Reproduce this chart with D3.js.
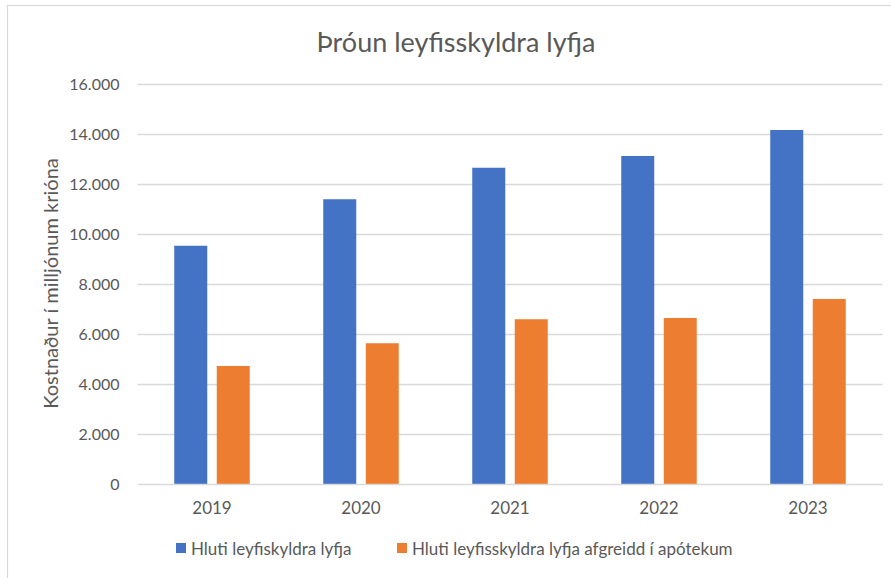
<!DOCTYPE html>
<html><head><meta charset="utf-8">
<script src="https://cdn.jsdelivr.net/npm/d3@7"></script>
<style>body{margin:0;background:#fff}svg{display:block}text{font-family:Lato,"Open Sans",sans-serif}</style>
</head><body><svg id="c" width="891" height="578"></svg>
<script>
const categories = ["2019","2020","2021","2022","2023"];
const seriesNames = ["Hluti leyfiskyldra lyfja","Hluti leyfisskyldra lyfja afgreidd í apótekum"];
const seriesA = [9530, 11390, 12650, 13120, 14160];
const seriesB = [4720, 5630, 6590, 6640, 7400];
const yTicks = [0,2000,4000,6000,8000,10000,12000,14000,16000];
const tickLabels = ["0","2.000","4.000","6.000","8.000","10.000","12.000","14.000","16.000"];
const colors = ["#4472C4","#ED7D31"];

const svg = d3.select("#c");
svg.append("rect").attr("x",7.5).attr("y",5.5).attr("width",900).attr("height",600)
  .attr("fill","#fff").attr("stroke","#d9d9d9").attr("stroke-width",1.2);

const pLeft=137.5, pRight=882.5, pTop=84, pBottom=484;
const x = d3.scaleBand().domain(categories).range([pLeft,pRight]).paddingInner(0).paddingOuter(0);
const y = d3.scaleLinear().domain([0,16000]).range([pBottom,pTop]);

// gridlines
svg.append("g").selectAll("line").data(yTicks.slice(1)).join("line")
  .attr("x1",pLeft).attr("x2",pRight).attr("y1",d=>Math.round(y(d))+0.5).attr("y2",d=>Math.round(y(d))+0.5)
  .attr("stroke","#d9d9d9").attr("stroke-width",1.5);

// y axis labels
const yAxis = d3.axisLeft(y).tickValues(yTicks).tickFormat((d,i)=>tickLabels[i]).tickSize(0).tickPadding(18);
const gy = svg.append("g").attr("transform",`translate(${pLeft},0)`).call(yAxis);
gy.select(".domain").remove();
gy.selectAll("text").attr("fill","#595959").style("font-size","16px").style("font-family","Lato, sans-serif");

// bars
const barW = 33, gap = 9.5;
const groups = categories.map((c,i)=>({c,a:seriesA[i],b:seriesB[i]}));
const gBars = svg.append("g");
groups.forEach(g=>{
  const cx = x(g.c)+x.bandwidth()/2;
  gBars.append("rect").attr("x",cx-gap/2-barW).attr("width",barW)
    .attr("y",y(g.a)).attr("height",y(0)-y(g.a)).attr("fill",colors[0]);
  gBars.append("rect").attr("x",cx+gap/2).attr("width",barW)
    .attr("y",y(g.b)).attr("height",y(0)-y(g.b)).attr("fill",colors[1]);
});

// x axis
const xAxis = d3.axisBottom(x).tickSize(0).tickPadding(18);
const gx = svg.append("g").attr("transform",`translate(0,${pBottom})`).call(xAxis);
gx.select(".domain").attr("stroke","#d9d9d9").attr("stroke-width",1.5);
gx.selectAll("text").attr("fill","#595959").style("font-size","17px").style("font-family","Lato, sans-serif");

// title
svg.append("text").attr("x",456).attr("y",52).attr("text-anchor","middle")
  .attr("fill","#595959").style("font-size","27px").text("Þróun leyfisskyldra lyfja");

// y title
svg.append("text").attr("transform",`translate(58,283.5) rotate(-90)`)
  .attr("text-anchor","middle").attr("fill","#595959").style("font-size","20px")
  .text("Kostnaður í milljónum krióna");

// legend
const leg = [{x:176,c:colors[0],t:seriesNames[0]},{x:397,c:colors[1],t:seriesNames[1]}];
leg.forEach(l=>{
  svg.append("rect").attr("x",l.x).attr("y",543).attr("width",10).attr("height",10).attr("fill",l.c);
  svg.append("text").attr("x",l.x+15).attr("y",555).attr("fill","#595959").style("font-size","17px").text(l.t);
});
</script></body></html>
